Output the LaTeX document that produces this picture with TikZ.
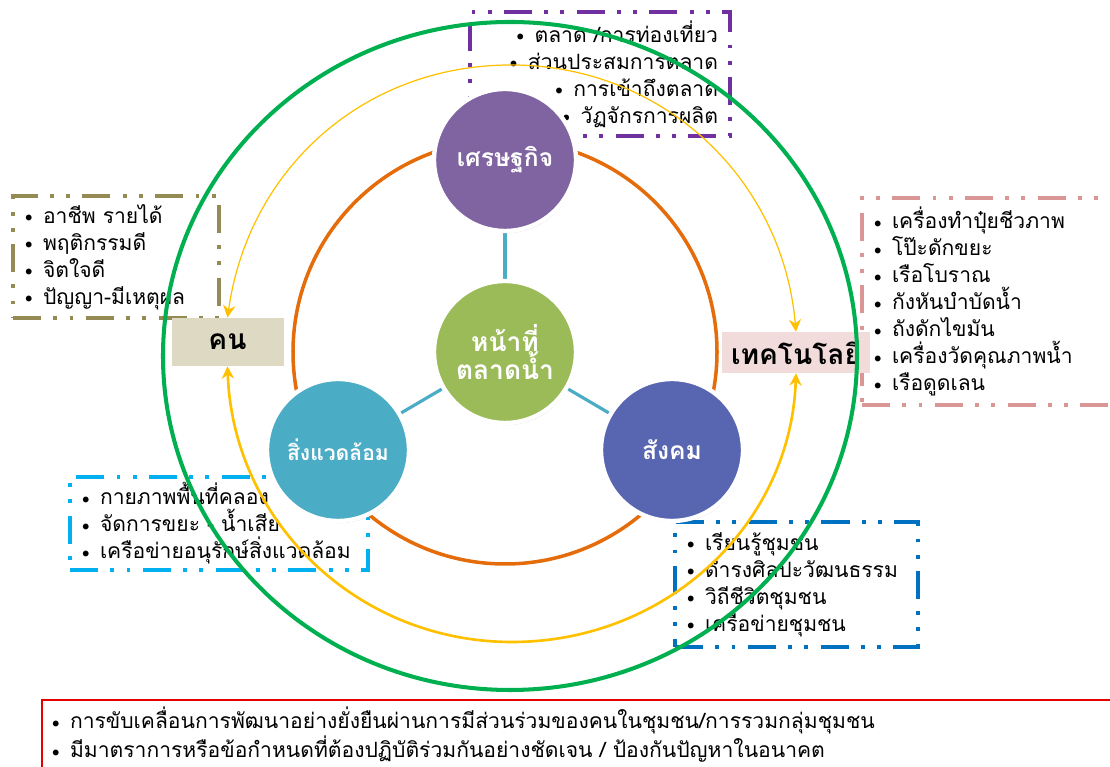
\documentclass[tikz,border=0pt]{standalone}
\usepackage{fontspec}
\newfontfamily\thai[Script=Thai]{Loma}
\usetikzlibrary{arrows.meta,shadows,backgrounds}
\definecolor{econ}{RGB}{128,100,162}
\definecolor{hubgreen}{RGB}{155,187,89}
\definecolor{envcyan}{RGB}{75,172,198}
\definecolor{socblue}{RGB}{88,102,178}
\definecolor{ringorange}{RGB}{228,108,10}
\definecolor{outergreen}{RGB}{0,176,80}
\definecolor{linkyellow}{RGB}{255,192,0}
\definecolor{boxpurple}{RGB}{112,48,160}
\definecolor{boxtan}{RGB}{148,138,84}
\definecolor{boxpink}{RGB}{217,150,148}
\definecolor{boxcyan}{RGB}{0,176,240}
\definecolor{boxblue}{RGB}{0,112,192}
\definecolor{boxred}{RGB}{230,0,0}
\definecolor{tanfill}{RGB}{221,217,195}
\definecolor{pinkfill}{RGB}{242,220,219}
\newcommand{\itm}{\makebox[0.36cm][l]{\raisebox{0.12ex}{\footnotesize$\bullet$}}}
\begin{document}
\begin{tikzpicture}[
bubble/.style={%
circle, fill=#1, draw=white, line width=2.5pt, minimum size=2.84cm,
text=white, font=\thai\bfseries\fontsize{13}{15}\selectfont,
drop shadow={shadow xshift=0.6pt, shadow yshift=-1.2pt, opacity=0.3}
},
spoke/.style={draw=envcyan, line width=1.8pt},
listbox/.style={%
draw=#1, fill=white, line width=2.2pt,
dash pattern=on 16pt off 7pt on 2.2pt off 7pt on 2.2pt off 7pt,
font=\thai\fontsize{12}{15.4}\selectfont, inner xsep=0.24cm, inner ysep=0pt
},
tag/.style={fill=#1, font=\thai\bfseries\fontsize{16}{18}\selectfont, inner sep=0pt},
link/.style={draw=linkyellow, {Stealth[length=7pt,width=7pt]}-{Stealth[length=7pt,width=7pt]}}
]
\useasboundingbox (0,0) rectangle (22.2,15.34);
\coordinate (c) at (10.10,8.30);
%% Ring
\begin{scope}[on background layer]
\draw[ringorange, line width=2pt](c) circle[radius=4.24];
\end{scope}
%% Lists
\node[listbox=boxpurple, text width=4.72cm, minimum height=2.48cm, align=right]at(12.00,13.86)(econlist){%
\itm ตลาด /การท่องเที่ยว\\ \itm ส่วนประสมการตลาด\\ \itm การเข้าถึงตลาด\\ \itm วัฏจักรการผลิต};
\node[listbox=boxtan, text width=3.64cm, minimum height=2.44cm, align=left]at(2.32,10.20)(peoplelist){%
\itm อาชีพ รายได้\\ \itm พฤติกรรมดี\\ \itm จิตใจดี\\ \itm ปัญญา-มีเหตุผล};
\node[listbox=boxpink, text width=4.58cm, minimum height=4.14cm, align=left]at(19.77,9.31)(techlist){%
\itm เครื่องทำปุ๋ยชีวภาพ\\ \itm โป๊ะดักขยะ\\ \itm เรือโบราณ\\ \itm กังหันบำบัดน้ำ\\
\itm ถังดักไขมัน\\ \itm เครื่องวัดคุณภาพน้ำ\\ \itm เรือดูดเลน};
\node[listbox=boxcyan, text width=5.48cm, minimum height=1.86cm, align=left]at(4.38,4.87)(envlist){%
\itm กายภาพพื้นที่คลอง\\ \itm จัดการขยะ - น้ำเสีย\\ \itm เครือข่ายอนุรักษ์สิ่งแวดล้อม};
\node[listbox=boxblue, text width=4.38cm, minimum height=2.50cm, align=left]at(15.93,3.65)(soclist){%
\itm เรียนรู้ชุมชน\\ \itm ดำรงศิลปะวัฒนธรรม\\ \itm วิถีชีวิตชุมชน\\ \itm เครือข่ายชุมชน};
\node[draw=boxred, line width=0.8pt, fill=white, text width=21.06cm, minimum height=1.4cm,
inner xsep=0.2cm, align=left, font=\thai\fontsize{12}{13}\selectfont]at(11.57,0.64)(goal){%
\itm การขับเคลื่อนการพัฒนาอย่างยั่งยืนผ่านการมีส่วนร่วมของคนในชุมชน/การรวมกลุ่มชุมชน\\
\itm มีมาตราการหรือข้อกำหนดที่ต้องปฏิบัติร่วมกันอย่างชัดเจน / ป้องกันปัญหาในอนาคต};
%% Circles
\node[bubble=hubgreen, align=center, font=\thai\bfseries\fontsize{15}{16}\selectfont]at(c)(hub){หน้าที่\\ตลาดน้ำ};
\node[bubble=econ, font=\thai\bfseries\fontsize{14}{16}\selectfont]at(10.10,12.14)(econ){เศรษฐกิจ};
\node[bubble=envcyan, font=\thai\bfseries\fontsize{12}{14}\selectfont]at(6.76,6.34)(env){สิ่งแวดล้อม};
\node[bubble=socblue, font=\thai\bfseries\fontsize{14}{16}\selectfont]at(13.44,6.34)(soc){สังคม};
\begin{scope}[on background layer]
\draw[spoke](hub)--(econ);
\draw[spoke](hub)--(env);
\draw[spoke](hub)--(soc);
\end{scope}
%% Tags
\node[tag=tanfill, minimum width=2.24cm, minimum height=0.96cm]at(4.55,8.50)(people){คน};
\node[tag=pinkfill, minimum width=2.96cm, minimum height=0.82cm]at(15.92,8.29)(tech){เทคโนโลยี};
%% Outer ring
\draw[outergreen, line width=2.3pt](10.20,8.22) ellipse[x radius=6.94, y radius=6.68];
%% Links
\coordinate (ltop) at (10.22,14.04);
\coordinate (lbot) at (10.24,2.50);
\draw[link, line width=0.7pt](people.north) to[out=82,in=180] (ltop) to[out=0,in=95] (tech.north);
\draw[link, line width=1.5pt](people.south) to[out=-88,in=180] (lbot) to[out=0,in=-92] (tech.south);
\end{tikzpicture}
\end{document}
